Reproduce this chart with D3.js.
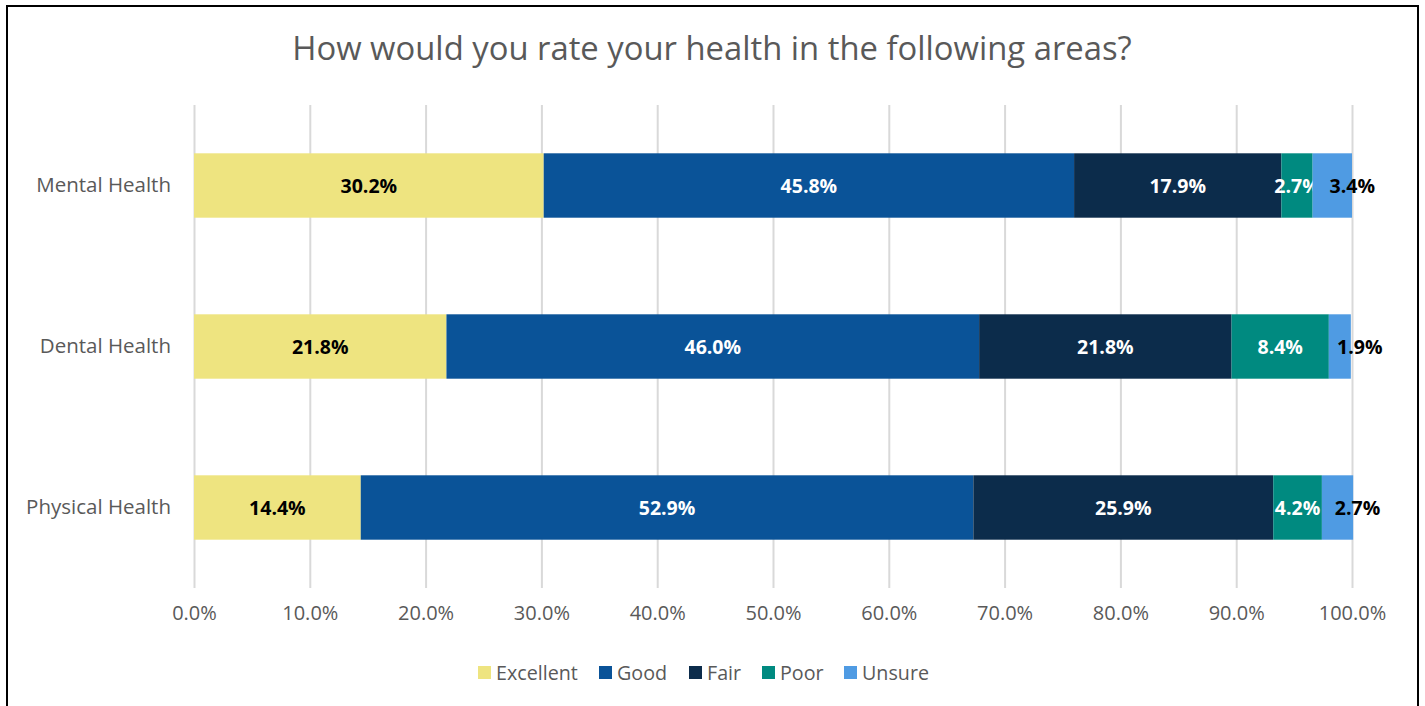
<!DOCTYPE html>
<html>
<head>
<meta charset="utf-8">
<script src="https://cdn.jsdelivr.net/npm/d3@7"></script>
<style>
  html, body { margin: 0; padding: 0; background: #fff; }
  svg { display: block; }
</style>
</head>
<body>
<svg id="chart" width="1425" height="706"></svg>
<script>
// Survey categories (top to bottom) and response shares in percent
const categories = ["Mental Health", "Dental Health", "Physical Health"];
const responses = ["Excellent", "Good", "Fair", "Poor", "Unsure"];
const excellent = [30.2, 21.8, 14.4];
const good      = [45.8, 46.0, 52.9];
const fair      = [17.9, 21.8, 25.9];
const poor      = [2.7, 8.4, 4.2];
const unsure    = [3.4, 1.9, 2.7];
const xTicks = [0, 10, 20, 30, 40, 50, 60, 70, 80, 90, 100];

const colors = ["#EEE480", "#0A5398", "#0C2C4B", "#008A80", "#4F9BE3"];
const labelColors = ["#000", "#fff", "#fff", "#fff", "#000"];

const seriesValues = [excellent, good, fair, poor, unsure];
const rows = categories.map((c, i) => {
  const r = { category: c };
  responses.forEach((k, j) => { r[k] = seriesValues[j][i]; });
  return r;
});
const stacked = d3.stack().keys(responses)(rows);

const svg = d3.select("#chart");
const font = "'Open Sans', 'Noto Sans', sans-serif";

// Frame
svg.append("rect")
  .attr("x", 7).attr("y", 6).attr("width", 1411).attr("height", 710)
  .attr("fill", "none").attr("stroke", "#000").attr("stroke-width", 2);

// Title
svg.append("text")
  .attr("x", 712).attr("y", 60)
  .attr("text-anchor", "middle")
  .attr("font-family", font).attr("font-size", 32.8)
  .attr("fill", "#595959")
  .text("How would you rate your health in the following areas?");

const x = d3.scaleLinear().domain([0, 100]).range([194, 1352]);
const y = d3.scaleBand().domain(categories).range([105, 588]).paddingInner(0.6).paddingOuter(0.3);

// Vertical gridlines and percentage axis
svg.append("g")
  .attr("transform", "translate(0,588)")
  .call(d3.axisBottom(x).tickValues(xTicks).tickSize(-483).tickFormat(d => d.toFixed(1) + "%").tickPadding(18))
  .call(g => g.select(".domain").remove())
  .call(g => g.selectAll(".tick line").attr("stroke", "#D9D9D9").attr("stroke-width", 2))
  .call(g => g.selectAll(".tick text")
      .attr("font-family", font).attr("font-size", 20).attr("fill", "#595959"));

// Category axis
svg.append("g")
  .attr("transform", "translate(194,0)")
  .call(d3.axisLeft(y).tickSize(0).tickPadding(23))
  .call(g => g.select(".domain").remove())
  .call(g => g.selectAll(".tick text")
      .attr("font-family", font).attr("font-size", 20.5).attr("fill", "#595959"));

// Stacked bars
const layers = svg.append("g").selectAll("g")
  .data(stacked).join("g")
  .attr("fill", (d, i) => colors[i]);

layers.selectAll("rect")
  .data(d => d).join("rect")
  .attr("x", d => x(d[0]))
  .attr("y", d => y(d.data.category))
  .attr("width", d => x(d[1]) - x(d[0]))
  .attr("height", y.bandwidth());

// Value labels; the narrow last segment's labels sit just right of centre
layers.each(function(layer, i) {
  d3.select(this).selectAll("text")
    .data(layer).join("text")
    .attr("x", d => (x(d[0]) + x(d[1])) / 2 + (i === 4 ? 20 : 0))
    .attr("y", d => y(d.data.category) + y.bandwidth() / 2)
    .attr("dy", "0.36em")
    .attr("text-anchor", "middle")
    .attr("font-family", font).attr("font-size", 19.5).attr("font-weight", "bold")
    .attr("fill", labelColors[i])
    .text(d => d.data[layer.key].toFixed(1) + "%");
});

// Legend
const legendX = [478, 599, 689, 762, 844];
const legend = svg.append("g").selectAll("g")
  .data(responses).join("g")
  .attr("transform", (d, i) => `translate(${legendX[i]},666)`);
legend.append("rect").attr("width", 13).attr("height", 13).attr("fill", (d, i) => colors[i]);
legend.append("text")
  .attr("x", 18).attr("y", 6.5).attr("dy", "0.36em")
  .attr("font-family", font).attr("font-size", 19.7).attr("fill", "#595959")
  .text(d => d);
</script>
</body>
</html>
